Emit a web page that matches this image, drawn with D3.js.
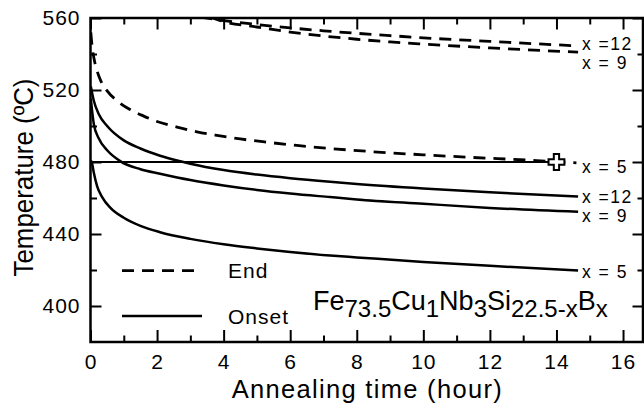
<!DOCTYPE html>
<html>
<head>
<meta charset="utf-8">
<script src="https://cdn.jsdelivr.net/npm/d3@7"></script>
<style>
  html, body { margin: 0; padding: 0; background: #fff; }
  svg { display: block; font-family: "Liberation Sans", Arial, sans-serif; }
</style>
</head>
<body>
<svg id="chart" width="644" height="405"></svg>
<script>
// Crystallization temperatures vs. annealing time, Fe73.5Cu1Nb3Si22.5-xBx
const onsetX5  = [[0.01,481],[0.05,479],[0.1,474],[0.2,466.5],[0.35,460.5],[0.6,454.5],[1.0,449],[1.5,444.5],[2.09,441],[3,437.3],[4,434.3],[5,432],[6,430],[7.2,428],[8,427],[10,424.5],[12,422.3],[14.65,419.7]];
const onsetX9  = [[0.01,515],[0.1,501],[0.25,493],[0.5,486.5],[0.89,480.5],[1.5,476],[2.09,473.5],[3,470],[4,467],[5,464.5],[6,462.5],[7.2,460.5],[8,459.2],[10,456.8],[12,454.5],[14.65,452.3]];
const onsetX12 = [[0.01,522],[0.1,514],[0.25,506.5],[0.5,500],[1.0,492],[1.5,487.5],[2.09,483.5],[2.6,480.8],[3,479],[4,475.5],[5,473],[6,471],[7.2,469],[8,467.8],[10,465.3],[12,463.2],[14.65,460.8]];
const endX5    = [[0.01,552],[0.05,544],[0.1,538],[0.2,530.5],[0.3,525.5],[0.5,519.5],[0.8,514],[1.2,509],[1.6,505.5],[2.0,502.5],[2.6,499.4],[3.2,496.8],[3.8,494.8],[4.5,492.8],[5.3,491],[6.2,489.2],[7.2,487.5],[8.9,485.2],[10,484],[11.4,482.6],[13.4,480.8],[14.6,479.5]];
const endX9    = [[3.6,560.5],[4,558],[5,555],[6,552.2],[7,550],[8,548.2],[9,546.7],[10,545.5],[12,543.4],[14.65,541]];
const endX12   = [[3.3,560.5],[4,558.6],[5,556.4],[6,554.5],[7,552.9],[8,551.5],[9,550.2],[10,549],[12,547],[14.65,544.5]];

const refTemp = 480;          // horizontal reference line
const refEnd = 14;            // reference line ends at the marked point
const markPoint = [14, 480];

const xMajorTicks = [0, 2, 4, 6, 8, 10, 12, 14, 16];
const xMinorTicks = [1, 3, 5, 7, 9, 11, 13, 15];
const yMajorTicks = [400, 440, 480, 520, 560];
const yMinorTicks = [420, 460, 500, 540];

// curve labels at the right end: [text, temperature of label centre]
const curveLabels = [["x =12", 545.8], ["x = 9", 534.9], ["x = 5", 477.6],
                     ["x =12", 461.0], ["x = 9", 450.2], ["x = 5", 419.3]];

const svg = d3.select("#chart");
const L = 90.5, R = 643, T = 18, B = 342;
const x = d3.scaleLinear().domain([0, 16.6]).range([L, R]);
const y = d3.scaleLinear().domain([380, 560]).range([B, T]);

svg.append("defs").append("clipPath").attr("id", "plot")
  .append("rect").attr("x", L).attr("y", T).attr("width", R - L).attr("height", B - T);

const line = d3.line().x(d => x(d[0])).y(d => y(d[1])).curve(d3.curveMonotoneX);
const g = svg.append("g").attr("clip-path", "url(#plot)");

// onset curves (solid)
[onsetX5, onsetX9, onsetX12].forEach(s => {
  g.append("path").attr("d", line(s)).attr("fill", "none")
    .attr("stroke", "#000").attr("stroke-width", 2.5);
});
// end curves (dashed)
[endX5, endX9, endX12].forEach(s => {
  g.append("path").attr("d", line(s)).attr("fill", "none")
    .attr("stroke", "#000").attr("stroke-width", 2.8).attr("stroke-dasharray", "12,8");
});
// reference line at 480 °C
g.append("line").attr("x1", x(0)).attr("x2", x(refEnd))
  .attr("y1", y(refTemp)).attr("y2", y(refTemp))
  .attr("stroke", "#000").attr("stroke-width", 2);
svg.append("path").attr("d", d3.symbol(d3.symbolCross, 140)())
  .attr("transform", `translate(${x(markPoint[0])},${y(markPoint[1])})`)
  .attr("fill", "#fff").attr("stroke", "#000").attr("stroke-width", 2);

// axes: ticks point inward on all four sides
function ticks(axis, vals, size, withLabels) {
  return axis.tickValues(vals).tickSize(size)
    .tickFormat(withLabels ? d3.format("d") : "");
}
function styleAxis(sel) {
  sel.select(".domain").remove();
  sel.selectAll(".tick line").attr("stroke", "#000").attr("stroke-width", 2);
  sel.selectAll("text").attr("fill", "#000").attr("font-size", 21)
    .attr("letter-spacing", "1px").attr("font-family", "Liberation Sans, Arial, sans-serif");
}
svg.append("g").attr("transform", `translate(0,${B})`)
  .call(ticks(d3.axisBottom(x), xMajorTicks, -12, true).tickPadding(12)).call(styleAxis);
svg.append("g").attr("transform", `translate(0,${B})`)
  .call(ticks(d3.axisBottom(x), xMinorTicks, -6.5, false)).call(styleAxis);
svg.append("g").attr("transform", `translate(0,${T})`)
  .call(ticks(d3.axisTop(x), xMajorTicks, -11.5, false)).call(styleAxis);
svg.append("g").attr("transform", `translate(0,${T})`)
  .call(ticks(d3.axisTop(x), xMinorTicks, -6.5, false)).call(styleAxis);
svg.append("g").attr("transform", `translate(${L},0)`)
  .call(ticks(d3.axisLeft(y), yMajorTicks, -11, true).tickPadding(10)).call(styleAxis);
svg.append("g").attr("transform", `translate(${L},0)`)
  .call(ticks(d3.axisLeft(y), yMinorTicks, -6.5, false)).call(styleAxis);
svg.append("g").attr("transform", `translate(${R},0)`)
  .call(ticks(d3.axisRight(y), yMajorTicks, -10.5, false)).call(styleAxis);
svg.append("g").attr("transform", `translate(${R},0)`)
  .call(ticks(d3.axisRight(y), yMinorTicks, -5.5, false)).call(styleAxis);

// frame
svg.append("rect").attr("x", L).attr("y", T).attr("width", R - L).attr("height", B - T)
  .attr("fill", "none").attr("stroke", "#000").attr("stroke-width", 2.5);

// curve labels
svg.selectAll(".clabel").data(curveLabels).join("text")
  .attr("class", "clabel")
  .attr("x", 582).attr("y", d => y(d[1]) + 6.3)
  .attr("font-size", 17.5).attr("letter-spacing", "1.5px")
  .text(d => d[0]);

// legend
const lg = svg.append("g");
lg.append("line").attr("x1", 122).attr("x2", 194).attr("y1", 270.7).attr("y2", 270.7)
  .attr("stroke", "#000").attr("stroke-width", 2.8).attr("stroke-dasharray", "12,8");
lg.append("line").attr("x1", 122).attr("x2", 202).attr("y1", 316).attr("y2", 316)
  .attr("stroke", "#000").attr("stroke-width", 2.5);
lg.append("text").attr("x", 228).attr("y", 277.5).attr("font-size", 21)
  .attr("letter-spacing", "1px").text("End");
lg.append("text").attr("x", 228).attr("y", 324).attr("font-size", 21)
  .attr("letter-spacing", "1px").text("Onset");

// composition
const comp = svg.append("text").attr("x", 313).attr("y", 310)
  .attr("font-size", 27);
const parts = [["Fe", false], ["73.5", true], ["Cu", false], ["1", true], ["Nb", false],
               ["3", true], ["Si", false], ["22.5-x", true], ["B", false], ["x", true]];
let sub = false;
parts.forEach(([t, isSub]) => {
  const ts = comp.append("tspan").text(t);
  if (isSub && !sub) ts.attr("dy", 7).attr("font-size", 24);
  else if (isSub) ts.attr("font-size", 24);
  else if (!isSub && sub) ts.attr("dy", -7);
  sub = isSub;
});

// axis titles
svg.append("text").attr("x", 366.7).attr("y", 398).attr("text-anchor", "middle")
  .attr("font-size", 25.5).attr("textLength", 270).attr("lengthAdjust", "spacing")
  .text("Annealing time (hour)");
svg.append("text").attr("transform", "translate(33,177.5) rotate(-90)")
  .attr("text-anchor", "middle").attr("font-size", 27)
  .attr("textLength", 198).attr("lengthAdjust", "spacingAndGlyphs")
  .text("Temperature (ºC)");
</script>
</body>
</html>
